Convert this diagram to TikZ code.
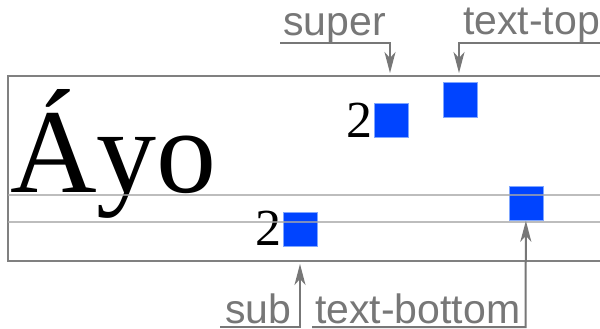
\documentclass[tikz,border=0pt]{standalone}
\usepackage{fontspec}
\setmainfont{Liberation Serif}
\newfontfamily\lblfont{Liberation Sans}
\usetikzlibrary{arrows.meta}
\definecolor{framec}{HTML}{808080}
\definecolor{guidec}{HTML}{A8A8A8}
\definecolor{lblc}{HTML}{777777}
\definecolor{sqc}{HTML}{0044FF}
\definecolor{sqedgec}{HTML}{7FA6FF}
\begin{document}
\begin{tikzpicture}[x=1pt,y=-1pt,
  sqbox/.style={draw=sqedgec, line width=0.8pt, fill=sqc, minimum size=34pt, inner sep=0pt, anchor=north west},
  lab/.style={font=\lblfont\fontsize{41}{41}\selectfont, text=lblc, inner sep=0pt, text depth=0pt, anchor=base west},
  two/.style={font=\fontsize{52}{52}\selectfont, inner sep=0pt, anchor=base east},
  conn/.style={draw=lblc, line width=2pt, -{Stealth[length=21pt,width=11pt,inset=6pt]}},
  framestyle/.style={draw=framec, line width=2.6pt},
  guide/.style={draw=guidec, line width=2pt, opacity=0.75}]
\useasboundingbox (0,0) rectangle (600,329);
\clip (0,0) rectangle (600,329);
\fill[white] (0,0) rectangle (600,329);
% frame
\draw[framestyle] (8,76) rectangle (640,261);
% main text
\node[font=\fontsize{120}{120}\selectfont, inner sep=0pt, anchor=base west] (word) at (10,192) {Áyo};
% squares
\node[sqbox] (supsq) at (374,102.5) {};
\node[two] (suptwo) at (373,137) {2};
\node[sqbox] (ttsq) at (442.5,82.5) {};
\node[sqbox] (subsq) at (282.5,212) {};
\node[two] (subtwo) at (282,245) {2};
\node[sqbox] (tbsq) at (508.5,186) {};
% guide lines
\draw[guide] (8,194.5) -- (640,194.5);
\draw[guide] (8,222) -- (640,222);
% labels
\node[lab] (suplab) at (283,36) {super};
\node[lab] (ttlab) at (463,35) {text-top};
\node[lab] (sublab) at (225,323) {sub};
\node[lab] (tblab) at (315,323) {text-bottom};
% connectors
\coordinate (supL) at (280,43);
\coordinate (supC) at (390,43);
\coordinate (supT) at (390,73);
\draw[conn] (supL) -- (supC) -- (supT);
\coordinate (ttR) at (640,43);
\coordinate (ttC) at (459,43);
\coordinate (ttT) at (459,73);
\draw[conn] (ttR) -- (ttC) -- (ttT);
\coordinate (subL) at (220,327);
\coordinate (subC) at (300,327);
\coordinate (subT) at (300,264);
\draw[conn] (subL) -- (subC) -- (subT);
\coordinate (tbL) at (312,327);
\coordinate (tbC) at (525.5,327);
\draw[conn] (tbL) -- (tbC) -- (tbsq.south);
\end{tikzpicture}
\end{document}
